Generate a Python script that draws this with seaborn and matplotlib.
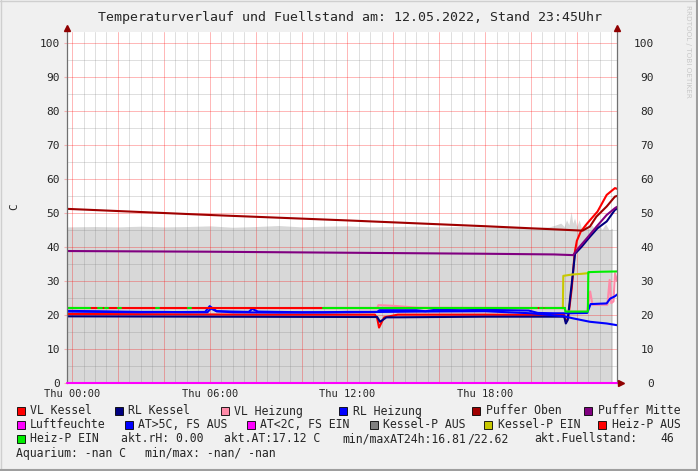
import matplotlib
matplotlib.use("Agg")
from matplotlib import pyplot as plt
from matplotlib.ticker import MultipleLocator, FuncFormatter
from matplotlib.patches import Rectangle
from matplotlib.lines import Line2D
import seaborn as sns

# time axis: hours since Thu 00:00
T_START, T_END = -0.22, 23.75

# Fuellstand (grey area)
fs_t = [-0.22, 1, 2, 3, 4, 5, 6, 7, 8, 9, 10, 11, 12, 13, 14, 15, 16, 17, 18, 19, 20,
        20.8, 21.1, 21.3, 21.45, 21.55, 21.65, 21.75, 21.82, 21.9, 22.0, 22.1, 22.2,
        22.35, 22.5, 22.65, 22.8, 22.95, 23.1, 23.25, 23.4, 23.55]
fs_v = [45.9, 46.0, 45.9, 46.1, 45.9, 46.0, 46.2, 45.8, 46.0, 46.3, 45.9, 46.1, 46.2,
        45.9, 46.0, 46.1, 45.9, 46.0, 45.8, 45.9, 45.7, 45.9, 46.5, 47.0, 46.0, 48.0,
        46.5, 50.4, 47.0, 48.5, 46.0, 48.0, 45.5, 47.0, 45.3, 46.5, 45.0, 46.5, 45.2,
        46.8, 45.0, 45.5]

# VL Kessel
vlk_t = [-0.22, 4, 8, 13.2, 13.3, 13.38, 13.6, 14.2, 18, 21.45, 21.52, 21.62, 21.78,
         21.9, 22.0, 22.17, 22.46, 22.9, 23.3, 23.66, 23.75]
vlk_v = [20.3, 20.2, 20.1, 20.1, 19.0, 16.3, 19.3, 20.1, 20.1, 20.0, 18.0, 19.0, 28.0,
         38.0, 41.8, 44.5, 47.0, 50.4, 55.3, 57.3, 57.1]

# RL Kessel
rlk_t = [-0.22, 6, 13.3, 13.42, 13.7, 18, 21.45, 21.52, 21.6, 21.84, 21.92, 22.2,
         22.57, 22.9, 23.3, 23.66, 23.75]
rlk_v = [19.6, 19.5, 19.4, 18.0, 19.3, 19.5, 19.5, 17.5, 18.5, 33.0, 38.0, 40.0, 43.0,
         45.5, 47.5, 50.9, 51.2]

# VL Heizung
vlh_t = [-0.22, 13.3, 13.35, 14.0, 15.1, 21.45, 21.52, 22.45, 22.58, 22.68, 23.33,
         23.43, 23.5, 23.6, 23.66, 23.75]
vlh_v = [22.0, 22.0, 22.9, 22.7, 22.1, 22.0, 21.0, 21.0, 26.9, 23.0, 23.0, 30.3, 23.5,
         24.0, 32.3, 30.0]

# RL Heizung
rlh_t = [-0.22, 1, 2, 3, 4, 5, 5.9, 6.05, 6.3, 7, 7.7, 7.85, 8.1, 9, 10, 11, 12, 13.3,
         13.4, 15, 15.4, 15.8, 17, 18, 19, 19.9, 20.3, 21.0, 21.45, 21.55, 22.45, 22.6,
         23.3, 23.45, 23.66, 23.75]
rlh_v = [21.2, 21.1, 21.0, 20.9, 20.9, 20.8, 20.8, 21.9, 21.1, 21.0, 20.9, 21.8, 21.0,
         20.9, 20.8, 20.8, 20.9, 20.9, 21.4, 21.4, 21.1, 21.5, 21.4, 21.5, 21.4, 21.3,
         20.6, 20.5, 20.5, 20.5, 20.6, 23.2, 23.4, 24.8, 25.5, 26.0]

# Puffer Oben / Mitte
po_t = [-0.22, 6, 12, 18, 22.25, 22.57, 22.85, 23.3, 23.66, 23.75]
po_v = [51.2, 49.4, 47.8, 46.1, 44.8, 46.0, 48.9, 51.9, 54.8, 55.0]
pm_t = [-0.22, 6, 12, 18, 21.0, 21.84, 22.06, 22.43, 22.86, 23.3, 23.66, 23.75]
pm_v = [38.8, 38.6, 38.3, 38.0, 37.8, 37.6, 39.6, 42.5, 46.0, 49.4, 51.4, 51.8]

# Luftfeuchte
lf_t = [-0.22, 23.75]
lf_v = [0.0, 0.0]

# Aussentemperatur (AT>5C)
at_t = [-0.22, 3, 5.8, 6.0, 6.3, 7, 9, 12, 15, 18, 20, 21.45, 21.84, 22.57, 23.3,
        23.66, 23.75]
at_v = [21.0, 20.8, 20.9, 22.6, 21.1, 20.8, 20.7, 20.8, 21.0, 21.1, 20.5, 19.6, 19.0,
        18.0, 17.5, 17.1, 17.0]

# Kessel-P EIN
kpe_t = [21.39, 21.41, 21.8, 22.2, 22.5]
kpe_v = [22.0, 31.5, 31.9, 32.1, 32.3]

# Heiz-P AUS / EIN
hp_level = 22.0
hp_aus_t = [-0.22, 21.48]
hp_ein_intervals = [(-0.22, 0.78), (1.13, 1.31), (1.44, 1.57), (2.0, 2.13),
                    (3.66, 3.79), (5.05, 5.19), (10.94, 20.26), (20.4, 20.52),
                    (20.6, 21.48)]
hp_end_t = [21.48, 21.5, 22.48, 22.5, 23.0, 23.75]
hp_end_v = [22.0, 21.0, 21.0, 32.6, 32.7, 32.8]

legend_rows = [
    [("VL Kessel", "#ff0000"), ("RL Kessel", "#000080"), ("VL Heizung", "#ff8aa8"),
     ("RL Heizung", "#0000ff"), ("Puffer Oben", "#a00000"), ("Puffer Mitte", "#800080")],
    [("Luftfeuchte", "#ff00ff"), ("AT>5C, FS AUS", "#0000ff"), ("AT<2C, FS EIN", "#ff00ff"),
     ("Kessel-P AUS", "#808080"), ("Kessel-P EIN", "#c8c800"), ("Heiz-P AUS", "#ff0000")],
]
legend_x = [[16.5, 114.5, 221, 339, 472, 584], [16.5, 124.7, 247, 369.5, 484, 598]]

W, H = 698, 471
FS = 8.3
sns.set_style("white")
plt.rcParams["font.family"] = ["DejaVu Sans Mono"]

fig = plt.figure(figsize=(W / 100, H / 100), dpi=100)
fig.patch.set_facecolor("#f0f0f0")
ax = fig.add_axes([67 / W, 88 / H, 550 / W, 351 / H])
ax.set_facecolor("white")
ax.set_xlim(T_START, T_END)
ax.set_ylim(0, 103.2)

# grey area
ax.fill_between(fs_t, 0, fs_v, color="#d8d8d8", lw=0, zorder=0.2)

# grid
ax.set_axisbelow(True)
ax.xaxis.set_major_locator(MultipleLocator(2))
ax.xaxis.set_minor_locator(MultipleLocator(0.5))
ax.yaxis.set_major_locator(MultipleLocator(10))
ax.yaxis.set_minor_locator(MultipleLocator(5))
ax.grid(which="minor", color="#808080", alpha=0.25, lw=0.72)
ax.grid(which="major", color="#ff0000", alpha=0.28, lw=0.72)
ax.xaxis.set_major_formatter(FuncFormatter(
    lambda h, _: f"Thu {int(round(h)):02d}:00" if round(h) % 6 == 0 else ""))
ax.tick_params(axis="x", which="both", length=0, labelsize=7.5, pad=4)
ax.tick_params(axis="y", which="major", length=2, color="#f4b0b0", labelsize=8, pad=3)
ax.tick_params(axis="y", which="minor", length=0)
for s in ["top", "bottom"]:
    ax.spines[s].set_visible(False)
for s in ["left", "right"]:
    ax.spines[s].set_color("#707070")
    ax.spines[s].set_linewidth(0.9)


def line(t, v, color, z=2):
    sns.lineplot(x=t, y=v, ax=ax, color=color, lw=1.5, estimator=None, sort=False,
                 legend=False, zorder=z)


line(vlk_t, vlk_v, "#ff0000")
line(rlk_t, rlk_v, "#000080")
line(vlh_t, vlh_v, "#ff8aa8")
line(rlh_t, rlh_v, "#0000ff")
line(po_t, po_v, "#a00000")
line(pm_t, pm_v, "#800080")
ax.plot(lf_t, lf_v, color="#ff00ff", lw=1.5, clip_on=False, zorder=3)
line(at_t, at_v, "#0000ff")
line(kpe_t, kpe_v, "#c8c800")
line(hp_aus_t, [hp_level] * 2, "#ff0000")
for a, b in hp_ein_intervals:
    line([a, b], [hp_level] * 2, "#00ee00")
line(hp_end_t, hp_end_v, "#00ee00")

# axis arrows
ax.plot([T_START, T_END], [104.3, 104.3], ls="none", marker="^", ms=4.5,
        color="#900000", clip_on=False, zorder=5)
ax.plot([23.93], [0], ls="none", marker=">", ms=4.5, color="#900000",
        clip_on=False, zorder=5)

# right axis labels
ax2 = ax.twinx()
ax2.set_ylim(ax.get_ylim())
ax2.set_yticks(range(0, 101, 10))
ax2.tick_params(axis="y", length=0, labelsize=8, pad=26.6)
plt.setp(ax2.get_yticklabels(), ha="right")
for s in ax2.spines.values():
    s.set_visible(False)

fig.text(14 / W, 1 - 207 / H, "C", rotation=90, ha="center", va="center", fontsize=8)
fig.text(350 / W, 1 - 17 / H,
         "Temperaturverlauf und Fuellstand am: 12.05.2022, Stand 23:45Uhr",
         ha="center", va="center", fontsize=9.5)
fig.text(688 / W, 1 - 5 / H, "RRDTOOL / TOBI OETIKER", rotation=270, ha="center",
         va="top", fontsize=5.2, color="#c8c8c8", family="DejaVu Sans")


def legend_item(x, y, label, color):
    fig.add_artist(Rectangle((x / W, 1 - (y + 4) / H), 8 / W, 8 / H, facecolor=color,
                             edgecolor="black", lw=0.6, transform=fig.transFigure))
    fig.text((x + 13.5) / W, 1 - y / H, label, va="center", fontsize=FS)


for row, (items, xs) in enumerate(zip(legend_rows, legend_x)):
    for (label, color), x in zip(items, xs):
        legend_item(x, 411 + 14 * row, label, color)
legend_item(16.5, 439, "Heiz-P EIN", "#00ee00")
for x, txt in [(120.7, "akt.rH: 0.00"), (224, "akt.AT:17.12 C"),
               (342, "min/maxAT24h:16.81"), (467, "/22.62"),
               (534, "akt.Fuellstand:"), (660, "46")]:
    fig.text(x / W, 1 - 439 / H, txt, va="center", fontsize=FS)
fig.text(16.5 / W, 1 - 453 / H, "Aquarium: -nan C", va="center", fontsize=FS)
fig.text(145 / W, 1 - 453 / H, "min/max: -nan/ -nan", va="center", fontsize=FS)

# frame shading
fig.add_artist(Line2D([0, 1], [1 - 0.5 / H] * 2, color="#cfcfcf", lw=1, transform=fig.transFigure))
fig.add_artist(Line2D([0.5 / W] * 2, [0, 1], color="#cfcfcf", lw=1, transform=fig.transFigure))
fig.add_artist(Line2D([0, 1], [1 / H] * 2, color="#9e9e9e", lw=1.5, transform=fig.transFigure))
fig.add_artist(Line2D([1 - 1 / W] * 2, [0, 1], color="#9e9e9e", lw=1.5, transform=fig.transFigure))

fig.savefig("out.png", dpi=100, facecolor=fig.get_facecolor())
